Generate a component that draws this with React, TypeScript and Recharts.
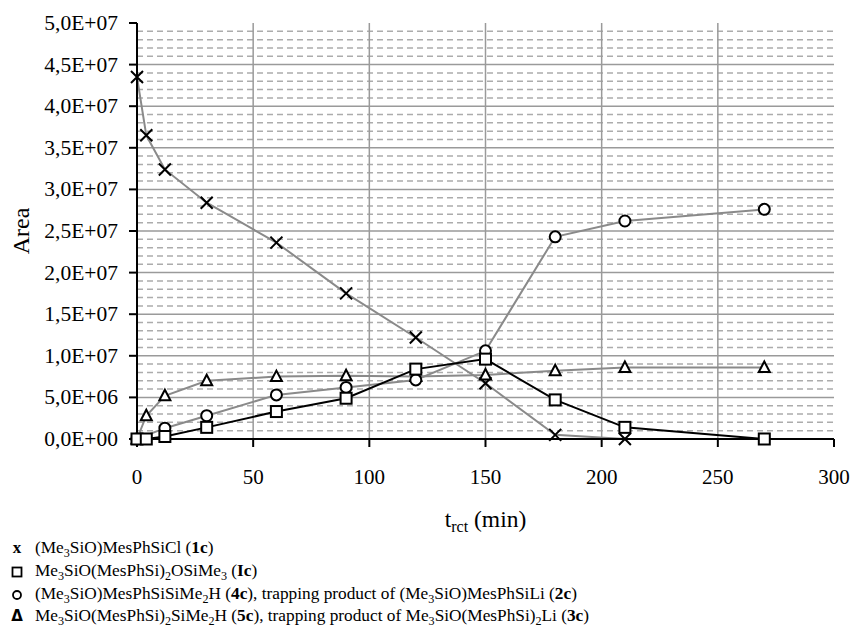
import React from 'react';
import { LineChart, Line, XAxis, YAxis, CartesianGrid } from 'recharts';

const times = [0, 4, 12, 30, 60, 90, 120, 150, 180, 210, 270];
const s1c = [4.35e7, 3.65e7, 3.24e7, 2.84e7, 2.36e7, 1.75e7, 1.22e7, 0.67e7, 0.05e7, 0.0, null];
const sIc = [0, 0, 0.03e7, 0.14e7, 0.33e7, 0.49e7, 0.84e7, 0.96e7, 0.47e7, 0.14e7, 0];
const s4c = [0, null, 0.13e7, 0.28e7, 0.53e7, 0.62e7, 0.71e7, 1.06e7, 2.43e7, 2.62e7, 2.76e7];
const s5c = [0, 0.28e7, 0.52e7, 0.70e7, 0.75e7, 0.76e7, 0.75e7, 0.77e7, 0.82e7, 0.86e7, 0.86e7];

const xTicks = [0, 50, 100, 150, 200, 250, 300];
const yTicks = [0, 5e6, 1e7, 1.5e7, 2e7, 2.5e7, 3e7, 3.5e7, 4e7, 4.5e7, 5e7];
const gridXTicks = [50, 100, 150, 200, 250];
const majorGridTicks = [5e6, 1e7, 1.5e7, 2e7, 2.5e7, 3e7, 3.5e7, 4e7, 4.5e7];
const minorGridTicks = [
  1e6, 2e6, 3e6, 4e6, 6e6, 7e6, 8e6, 9e6, 1.1e7, 1.2e7, 1.3e7, 1.4e7, 1.6e7, 1.7e7, 1.8e7, 1.9e7,
  2.1e7, 2.2e7, 2.3e7, 2.4e7, 2.6e7, 2.7e7, 2.8e7, 2.9e7, 3.1e7, 3.2e7, 3.3e7, 3.4e7,
  3.6e7, 3.7e7, 3.8e7, 3.9e7, 4.1e7, 4.2e7, 4.3e7, 4.4e7, 4.6e7, 4.7e7, 4.8e7, 4.9e7,
];
const X_DOMAIN = [0, 300];
const Y_DOMAIN = [0, 5e7];

const data = times.map((t, i) => ({ t, a: s1c[i], b: sIc[i], c: s4c[i], d: s5c[i] }));

const FONT = '"Liberation Serif", "Times New Roman", serif';
const GRAY = '#8a8a8a';

const fmtSci = (v: number) => {
  if (v === 0) return '0,0E+00';
  const e = Math.floor(Math.log10(v) + 1e-9);
  const m = v / Math.pow(10, e);
  return m.toFixed(1).replace('.', ',') + 'E+' + String(e).padStart(2, '0');
};

const mapY = (props: any, vals: number[]) => {
  const s = props?.yAxis?.scale;
  const off = props.offset;
  return vals.map((v) =>
    typeof s === 'function' ? s(v) : off.top + off.height * (1 - (v - Y_DOMAIN[0]) / (Y_DOMAIN[1] - Y_DOMAIN[0]))
  );
};
const mapX = (props: any, vals: number[]) => {
  const s = props?.xAxis?.scale;
  const off = props.offset;
  return vals.map((v) =>
    typeof s === 'function' ? s(v) : off.left + off.width * ((v - X_DOMAIN[0]) / (X_DOMAIN[1] - X_DOMAIN[0]))
  );
};

const ok = (p: any) => p && p.cx != null && p.cy != null && p.value != null && !Number.isNaN(p.cy);

const XDot = (p: any) => {
  if (!ok(p)) return <g key={`xd-${p.index}`} />;
  const r = 6;
  return (
    <path key={`xd-${p.index}`} d={`M${p.cx - r},${p.cy - r}L${p.cx + r},${p.cy + r}M${p.cx - r},${p.cy + r}L${p.cx + r},${p.cy - r}`}
      stroke="#000" strokeWidth={2} fill="none" />
  );
};
const SqDot = (p: any) => {
  if (!ok(p)) return <g key={`sd-${p.index}`} />;
  const r = 5.5;
  return <rect key={`sd-${p.index}`} x={p.cx - r} y={p.cy - r} width={2 * r} height={2 * r} stroke="#000" strokeWidth={2} fill="#fff" />;
};
const CDot = (p: any) => {
  if (!ok(p)) return <g key={`cd-${p.index}`} />;
  return <circle key={`cd-${p.index}`} cx={p.cx} cy={p.cy} r={5.5} stroke="#000" strokeWidth={2} fill="#fff" />;
};
const TDot = (p: any) => {
  if (!ok(p)) return <g key={`td-${p.index}`} />;
  const w = 5.5;
  return (
    <path key={`td-${p.index}`} d={`M${p.cx},${p.cy - 6}L${p.cx + w},${p.cy + 4.5}L${p.cx - w},${p.cy + 4.5}Z`}
      stroke="#000" strokeWidth={2} fill="#fff" strokeLinejoin="miter" />
  );
};

const subStyle: React.CSSProperties = { fontSize: '0.7em', verticalAlign: '-0.3em', lineHeight: 0 };

const legendRows = [
  {
    sym: 'x',
    text: (
      <>(Me<sub style={subStyle}>3</sub>SiO)MesPhSiCl (<b>1c</b>)</>
    ),
  },
  {
    sym: 'sq',
    text: (
      <>Me<sub style={subStyle}>3</sub>SiO(MesPhSi)<sub style={subStyle}>2</sub>OSiMe<sub style={subStyle}>3</sub> (<b>Ic</b>)</>
    ),
  },
  {
    sym: 'c',
    text: (
      <>(Me<sub style={subStyle}>3</sub>SiO)MesPhSiSiMe<sub style={subStyle}>2</sub>H (<b>4c</b>), trapping product of (Me<sub style={subStyle}>3</sub>SiO)MesPhSiLi (<b>2c</b>)</>
    ),
  },
  {
    sym: 't',
    text: (
      <>Me<sub style={subStyle}>3</sub>SiO(MesPhSi)<sub style={subStyle}>2</sub>SiMe<sub style={subStyle}>2</sub>H (<b>5c</b>), trapping product of Me<sub style={subStyle}>3</sub>SiO(MesPhSi)<sub style={subStyle}>2</sub>Li (<b>3c</b>)</>
    ),
  },
];
const legendTops = [538, 561, 584, 606];

const Sym = ({ kind }: { kind: string }) => {
  if (kind === 'x') return <span style={{ fontWeight: 'bold', fontSize: 17 }}>x</span>;
  if (kind === 't') return <span style={{ fontWeight: 'bold', fontSize: 15, fontFamily: '"DejaVu Sans", sans-serif' }}>Δ</span>;
  if (kind === 'sq')
    return (
      <svg width={12} height={12} style={{ verticalAlign: 'middle' }}>
        <rect x={1.5} y={1.5} width={9} height={9} stroke="#000" strokeWidth={1.8} fill="none" />
      </svg>
    );
  return (
    <svg width={12} height={12} style={{ verticalAlign: 'middle' }}>
      <circle cx={6} cy={6} r={4} stroke="#000" strokeWidth={1.8} fill="none" />
    </svg>
  );
};

const XTitle = (props: any) => {
  const vb = props.viewBox || { x: 137, y: 439, width: 697, height: 100 };
  const cx = vb.x + vb.width / 2;
  return (
    <text x={cx} y={vb.y + 88} textAnchor="middle" fontFamily={FONT} fontSize={23.5} fill="#000">
      t<tspan fontSize={16} dy={5}>rct</tspan>
      <tspan dy={-5}> (min)</tspan>
    </text>
  );
};

const YTitle = (props: any) => {
  const vb = props.viewBox || { x: 0, y: 23, width: 137, height: 416 };
  const cx = vb.x + 21;
  const cy = vb.y + vb.height / 2;
  return (
    <text x={cx} y={cy} textAnchor="middle" dominantBaseline="central" transform={`rotate(-90 ${cx} ${cy})`}
      fontFamily={FONT} fontSize={24} fill="#000">
      Area
    </text>
  );
};

const YTick = (p: any) => (
  <text x={p.x} y={p.y} textAnchor="end" dominantBaseline="central" fontFamily={FONT} fontSize={21.5} fill="#000">
    {fmtSci(p.payload.value)}
  </text>
);
const XTick = (p: any) => (
  <text x={p.x} y={p.y} dy="0.71em" textAnchor="middle" fontFamily={FONT} fontSize={21} fill="#000">
    {p.payload.value}
  </text>
);

export default function App() {
  return (
    <div style={{ position: 'absolute', left: 0, top: 0, width: 855, height: 627, background: '#fff', fontFamily: FONT }}>
      <LineChart width={855} height={627} data={data} margin={{ top: 23, right: 21, left: 0, bottom: 88 }} style={{ fontFamily: FONT }}>
        <CartesianGrid
          vertical={false}
          horizontalCoordinatesGenerator={(p: any) => mapY(p, minorGridTicks)}
          stroke="#acacac"
          strokeWidth={1.5}
          strokeDasharray="6 4"
        />
        <CartesianGrid
          horizontalCoordinatesGenerator={(p: any) => mapY(p, majorGridTicks)}
          verticalCoordinatesGenerator={(p: any) => mapX(p, gridXTicks)}
          stroke="#9a9a9a"
          strokeWidth={1.5}
        />
        <XAxis
          dataKey="t"
          type="number"
          domain={X_DOMAIN}
          ticks={xTicks}
          interval={0}
          height={100}
          tickSize={8}
          tickMargin={22}
          tick={XTick}
          axisLine={{ stroke: '#000', strokeWidth: 2 }}
          tickLine={{ stroke: '#000', strokeWidth: 2 }}
          label={{ content: XTitle }}
        />
        <YAxis
          type="number"
          domain={Y_DOMAIN}
          ticks={yTicks}
          interval={0}
          width={137}
          tickSize={8}
          tickMargin={11}
          tick={YTick}
          axisLine={{ stroke: '#000', strokeWidth: 2 }}
          tickLine={{ stroke: '#000', strokeWidth: 2 }}
          label={{ content: YTitle }}
        />
        <Line dataKey="a" stroke={GRAY} strokeWidth={2} dot={XDot} isAnimationActive={false} />
        <Line dataKey="d" stroke={GRAY} strokeWidth={2} dot={TDot} isAnimationActive={false} />
        <Line dataKey="c" stroke={GRAY} strokeWidth={2} dot={CDot} connectNulls isAnimationActive={false} />
        <Line dataKey="b" stroke="#000" strokeWidth={2} dot={SqDot} isAnimationActive={false} />
      </LineChart>
      {legendRows.map((row, i) => (
        <div key={i} style={{ position: 'absolute', left: 0, top: legendTops[i], height: 20, lineHeight: '20px', fontSize: 17.3, color: '#000', whiteSpace: 'nowrap' }}>
          <span style={{ position: 'absolute', left: 10, width: 14, textAlign: 'center' }}>
            <Sym kind={row.sym} />
          </span>
          <span style={{ position: 'absolute', left: 35 }}>{row.text}</span>
        </div>
      ))}
    </div>
  );
}
